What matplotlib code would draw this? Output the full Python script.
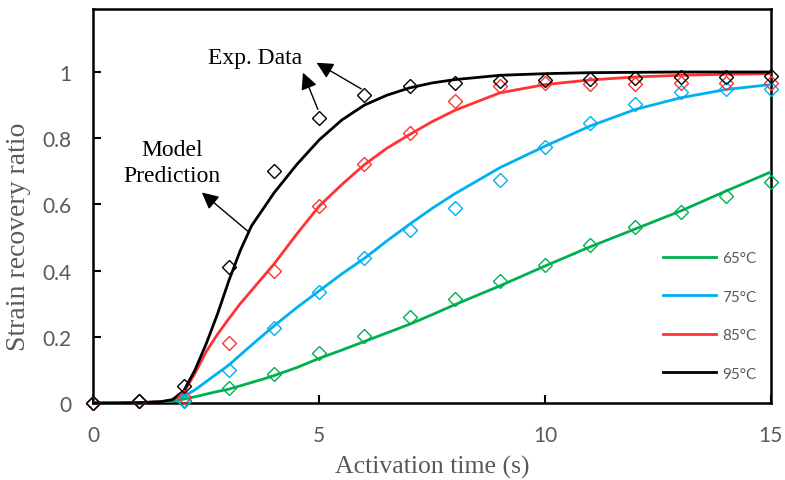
import numpy as np
import matplotlib
matplotlib.use('Agg')
import matplotlib.pyplot as plt

t_exp = [0, 1, 2, 3, 4, 5, 6, 7, 8, 9, 10, 11, 12, 13, 14, 15]
exp65 = [0, 0.005, 0.007, 0.044, 0.088, 0.151, 0.203, 0.26, 0.314, 0.369, 0.417, 0.477, 0.531, 0.577, 0.625, 0.669]
exp75 = [0, 0.005, 0.01, 0.10, 0.227, 0.334, 0.437, 0.524, 0.588, 0.674, 0.774, 0.845, 0.902, 0.939, 0.950, 0.950]
exp85 = [0, 0.005, 0.018, 0.18, 0.398, 0.594, 0.722, 0.815, 0.911, 0.959, 0.966, 0.964, 0.965, 0.967, 0.966, 0.967]
exp95 = [0, 0.005, 0.052, 0.412, 0.70, 0.862, 0.932, 0.957, 0.966, 0.974, 0.977, 0.979, 0.983, 0.985, 0.985, 0.987]

# model prediction curves
t_mod = [0, 0.5, 1, 1.5, 1.75, 2, 2.25, 2.5, 2.75, 3, 3.25, 3.5, 3.75, 4, 4.5, 5, 5.5, 6, 6.5, 7, 7.5, 8,
         9, 10, 11, 12, 13, 14, 15]
mod65 = [0, 0, 0.001, 0.003, 0.006, 0.012, 0.019, 0.027, 0.035, 0.042, 0.052, 0.062, 0.072, 0.083, 0.107, 0.135, 0.160, 0.186,
         0.212, 0.238, 0.267, 0.297, 0.354, 0.414, 0.472, 0.526, 0.58, 0.64, 0.698]
mod75 = [0, 0, 0.001, 0.004, 0.009, 0.02, 0.04, 0.065, 0.09, 0.115, 0.145, 0.175, 0.204, 0.233, 0.288, 0.339, 0.39, 0.437,
         0.49, 0.54, 0.588, 0.632, 0.711, 0.776, 0.837, 0.887, 0.922, 0.947, 0.962]
mod85 = [0, 0, 0.001, 0.004, 0.01, 0.032, 0.09, 0.156, 0.208, 0.255, 0.30, 0.34, 0.38, 0.42, 0.51, 0.595, 0.66, 0.72,
         0.77, 0.811, 0.85, 0.884, 0.937, 0.962, 0.976, 0.985, 0.99, 0.993, 0.995]
mod95 = [0, 0, 0.001, 0.004, 0.01, 0.037, 0.10, 0.18, 0.27, 0.37, 0.46, 0.535, 0.585, 0.635, 0.72, 0.795, 0.855, 0.90,
         0.93, 0.952, 0.967, 0.977, 0.99, 0.995, 0.998, 0.999, 1.0, 1.0, 1.0]

labels = ['65°C', '75°C', '85°C', '95°C']
colors = ['#00B050', '#00B0F0', '#FF3333', '#000000']

fig = plt.figure(figsize=(7.85, 4.81), dpi=100)
ax = fig.add_axes([0.119, 0.160, 0.863, 0.819])

for m, e, lab, c in zip([mod65, mod75, mod85, mod95], [exp65, exp75, exp85, exp95], labels, colors):
    ax.plot(t_mod, m, color=c, lw=2, label=lab, zorder=3)
    ax.plot(t_exp, e, linestyle='none', marker='D', ms=7, mfc='none', mec=c, mew=1.0,
            clip_on=False, zorder=4)

ax.set_xlim(0, 15)
ax.set_ylim(0, 1.19)
ax.set_xticks([0, 5, 10, 15])
ax.set_yticks([0, 0.2, 0.4, 0.6, 0.8, 1.0])
ax.set_yticklabels(['0', '0.2', '0.4', '0.6', '0.8', '1'])
ax.tick_params(direction='in', length=6, width=1.5, colors='black', labelcolor='#595959',
               labelsize=15, pad=16)
for lbl in ax.get_xticklabels() + ax.get_yticklabels():
    lbl.set_family('Lato')
for s in ax.spines.values():
    s.set_linewidth(1.8)

ax.set_xlabel('Activation time (s)', family='Liberation Serif', fontsize=18.5, color='#595959', labelpad=7)
ax.set_ylabel('Strain recovery ratio', family='Liberation Serif', fontsize=20, color='#595959')
ax.yaxis.set_label_coords(-0.092, 0.424)

arrow = dict(arrowstyle='-|>', color='black', lw=1.0, mutation_scale=25, shrinkA=0, shrinkB=0)
ax.annotate('', xy=(2.40, 0.636), xytext=(3.42, 0.519), arrowprops=arrow)
ax.annotate('', xy=(4.64, 0.998), xytext=(4.97, 0.887), arrowprops=arrow)
ax.annotate('', xy=(4.94, 1.028), xytext=(5.93, 0.949), arrowprops=arrow)
ax.text(3.57, 1.043, 'Exp. Data', family='Liberation Serif', fontsize=17, ha='center', va='center')
ax.text(1.74, 0.727, 'Model\nPrediction', family='Liberation Serif', fontsize=17, ha='center', va='center',
        linespacing=1.3)

leg = ax.legend(loc='upper left', bbox_to_anchor=(0.82, 0.42), frameon=False,
                handlelength=3.5, labelspacing=1.6, handletextpad=0.4, prop={'family': 'Lato', 'size': 11})
for txt in leg.get_texts():
    txt.set_color('#595959')

fig.savefig('out.png', dpi=100)
